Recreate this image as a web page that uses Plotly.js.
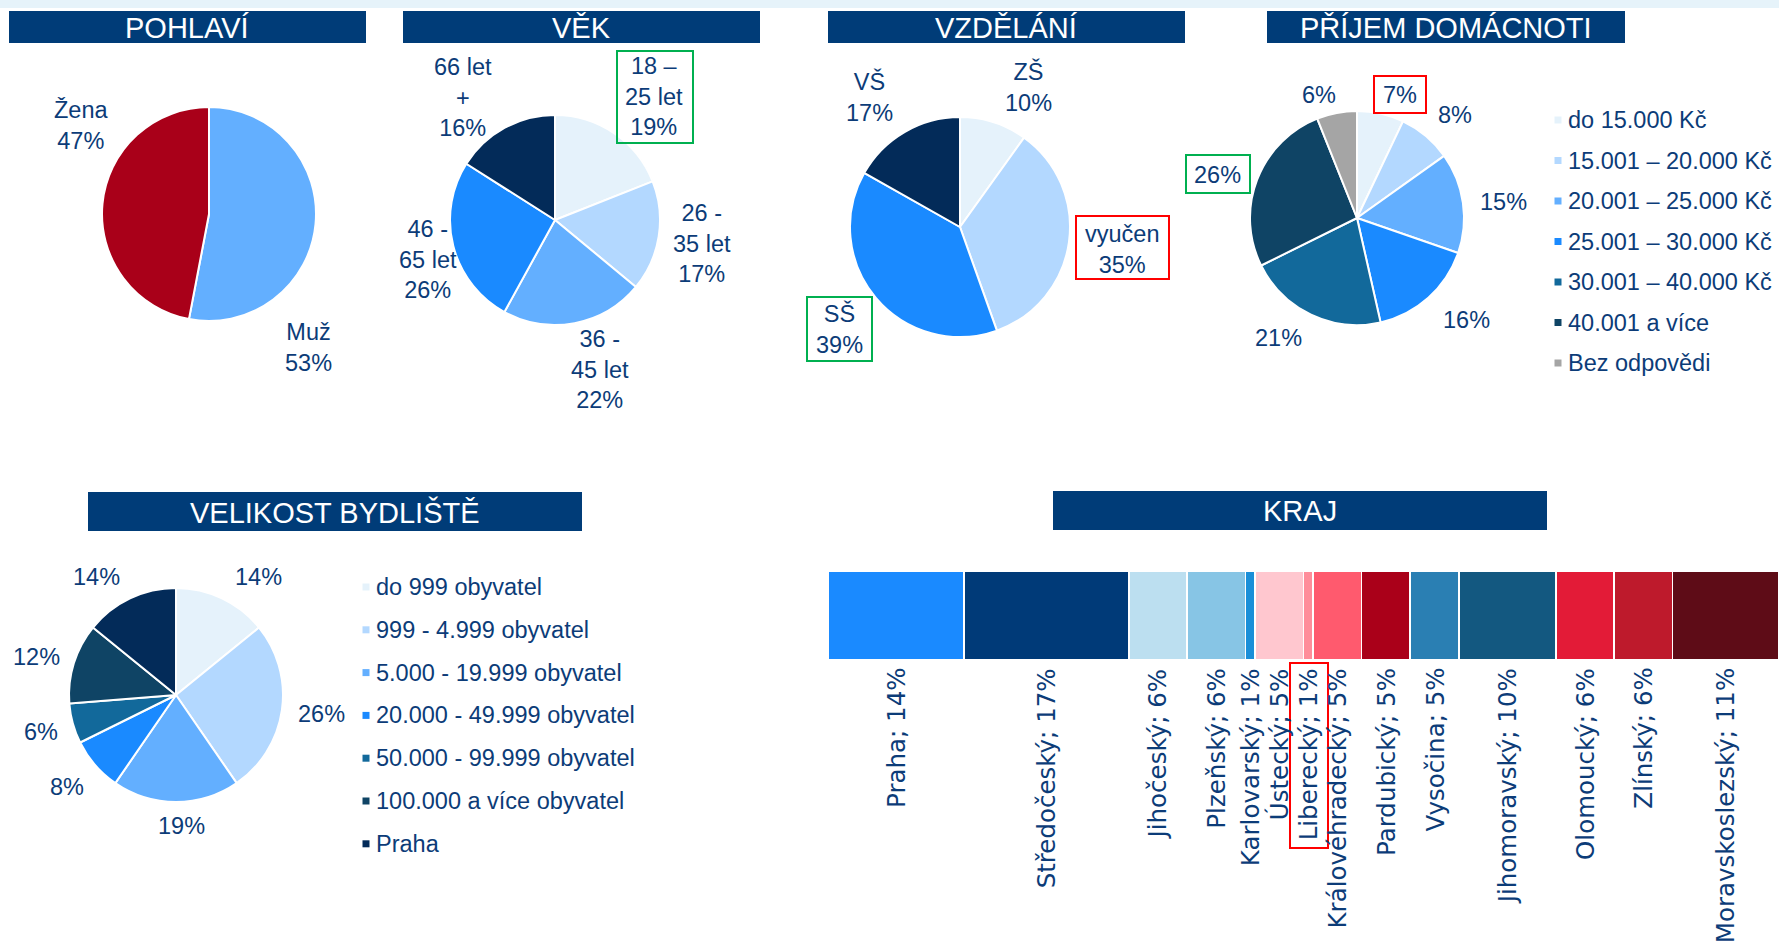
<!DOCTYPE html>
<html><head><meta charset="utf-8">
<script src="https://cdn.plot.ly/plotly-3.0.1.min.js"></script>
<style>html,body{margin:0;padding:0;background:#fff;overflow:hidden}#chart{width:1779px;height:942px;}</style>
</head><body><div id="chart"></div>
<script>
// ---------- DATA ----------
const pohlaviLabels = ['Muž', 'Žena'];
const pohlaviValues = [53, 47];

const vekLabels = ['18 –<br>25 let', '26 -<br>35 let', '36 -<br>45 let', '46 -<br>65 let', '66 let<br>+'];
const vekValues = [19, 17, 22, 26, 16];

const vzdelaniLabels = ['ZŠ', 'vyučen', 'SŠ', 'VŠ'];
const vzdelaniValues = [10, 35, 39, 17];

const prijemLabels = ['do 15.000 Kč', '15.001 – 20.000 Kč', '20.001 – 25.000 Kč', '25.001 – 30.000 Kč', '30.001 – 40.000 Kč', '40.001 a více', 'Bez odpovědi'];
const prijemValues = [7, 8, 15, 16, 21, 26, 6];

const bydlisteLabels = ['do 999 obyvatel', '999 - 4.999 obyvatel', '5.000 - 19.999 obyvatel', '20.000 - 49.999 obyvatel', '50.000 - 99.999 obyvatel', '100.000 a více obyvatel', 'Praha'];
const bydlisteValues = [14, 26, 19, 8, 6, 12, 14];

const krajLabels = ['Praha', 'Středočeský', 'Jihočeský', 'Plzeňský', 'Karlovarský', 'Ústecký', 'Liberecký', 'Královéhradecký', 'Pardubický', 'Vysočina', 'Jihomoravský', 'Olomoucký', 'Zlínský', 'Moravskoslezský'];
const krajValues = [14, 17, 6, 6, 1, 5, 1, 5, 5, 5, 10, 6, 6, 11];

const sectionTitles = ['POHLAVÍ', 'VĚK', 'VZDĚLÁNÍ', 'PŘÍJEM DOMÁCNOTI', 'VELIKOST BYDLIŠTĚ', 'KRAJ'];

// ---------- STYLE / LAYOUT CONFIG ----------
const W = 1779, H = 942;
const X = px => px / W;
const Y = py => 1 - py / H;
const NAVY_TXT = '#0c3c78';
const HEAD = '#003c78';
const FONT = 'Liberation Sans, Arial, sans-serif';
const FS = 23.5;

const pohlaviColors = ['#63afff', '#a90019'];
const vekColors = ['#e5f2fb', '#b3d8ff', '#63afff', '#1a8aff', '#032b59'];
const vzdelaniColors = ['#e5f2fb', '#b3d8ff', '#1a8aff', '#032b59'];
const prijemColors = ['#e5f2fb', '#b3d8ff', '#63afff', '#1a8aff', '#12699b', '#0f4465', '#a5a5a5'];
const bydlisteColors = ['#e5f2fb', '#b3d8ff', '#63afff', '#1a8aff', '#12699b', '#0f4465', '#032b59'];
const krajColors = ['#1a8aff', '#003a78', '#bcdff0', '#87c5e5', '#1b8fd8', '#ffc7cf', '#ff8d9a', '#ff5a6e', '#aa0019', '#2a7fb3', '#135880', '#e31b37', '#be1a2c', '#5e0c17'];

// pie geometry [cx, cy, r] in px
const pieGeo = {
  pohlavi: [209, 214, 107],
  vek: [555, 220, 105],
  vzdelani: [960, 227, 110],
  prijem: [1357, 218, 107],
  bydliste: [176, 695, 107]
};
// label anchor points (px)
const pohlaviPos = [[308, 347], [81, 126]];
const vekPos = [[654, 97], [702, 243], [600, 369], [428, 259], [463, 98]];
const vzdelaniPos = [[1028, 87], [1122, 249], [839, 329], [869, 97]];
const prijemPos = [[1400, 95], [1455, 115], [1503, 202], [1466, 320], [1278, 338], [1217, 175], [1319, 95]];
const bydlistePos = [[258, 577], [321, 714], [181, 826], [67, 787], [41, 732], [36, 657], [96, 577]];

const headerBoxes = [[9, 11, 366, 43], [403, 11, 760, 43], [828, 11, 1185, 43], [1267, 11, 1625, 43], [88, 492, 582, 531], [1053, 491, 1547, 530]];
const greenBoxes = [[617, 51, 693, 143], [807, 297, 872, 361], [1186, 155, 1250, 193]];
const redBoxes = [[1076, 216, 1169, 279], [1374, 76, 1426, 113], [1290, 663, 1328, 848]];

const prijemLegend = {markerX: 1558, textX: 1566, y0: 120, dy: 40.5};
const bydlisteLegend = {markerX: 366, textX: 374, y0: 587, dy: 42.8};

const krajBar = {x0: 828, x1: 1779, y0: 571, y1: 660, labelTop: 666};

// ---------- BUILD ----------
const traces = [];
const annotations = [];
const shapes = [];

function addPie(labels, values, colors, geo, name) {
  const [cx, cy, r] = geo;
  traces.push({
    type: 'pie', name: name, labels: labels, values: values, sort: false,
    direction: 'clockwise', rotation: 0, textinfo: 'none', hoverinfo: 'label+percent',
    showlegend: false,
    marker: {colors: colors, line: {color: '#ffffff', width: 2}},
    domain: {x: [X(cx - r), X(cx + r)], y: [Y(cy + r), Y(cy - r)]}
  });
}
function addLabels(texts, pos) {
  texts.forEach((t, i) => {
    annotations.push({
      xref: 'paper', yref: 'paper', x: X(pos[i][0]), y: Y(pos[i][1]),
      xanchor: 'center', yanchor: 'middle', showarrow: false, text: t,
      font: {family: FONT, size: FS, color: NAVY_TXT}, align: 'center'
    });
  });
}
function addLegend(labels, colors, cfg) {
  labels.forEach((l, i) => {
    const y = cfg.y0 + i * cfg.dy;
    shapes.push({type: 'rect', xref: 'paper', yref: 'paper', x0: X(cfg.markerX - 3.5), x1: X(cfg.markerX + 3.5), y0: Y(y + 3.5), y1: Y(y - 3.5), fillcolor: colors[i], line: {width: 0}});
    annotations.push({xref: 'paper', yref: 'paper', x: X(cfg.textX), y: Y(y), xanchor: 'left', yanchor: 'middle', showarrow: false, text: l, font: {family: FONT, size: FS, color: NAVY_TXT}});
  });
}

addPie(pohlaviLabels, pohlaviValues, pohlaviColors, pieGeo.pohlavi, 'POHLAVÍ');
addLabels(pohlaviLabels.map((l, i) => l + '<br>' + pohlaviValues[i] + '%'), pohlaviPos);

addPie(vekLabels, vekValues, vekColors, pieGeo.vek, 'VĚK');
addLabels(vekLabels.map((l, i) => l + '<br>' + vekValues[i] + '%'), vekPos);

addPie(vzdelaniLabels, vzdelaniValues, vzdelaniColors, pieGeo.vzdelani, 'VZDĚLÁNÍ');
addLabels(vzdelaniLabels.map((l, i) => l + '<br>' + vzdelaniValues[i] + '%'), vzdelaniPos);

addPie(prijemLabels, prijemValues, prijemColors, pieGeo.prijem, 'PŘÍJEM DOMÁCNOTI');
addLabels(prijemValues.map(v => v + '%'), prijemPos);
addLegend(prijemLabels, prijemColors, prijemLegend);

addPie(bydlisteLabels, bydlisteValues, bydlisteColors, pieGeo.bydliste, 'VELIKOST BYDLIŠTĚ');
addLabels(bydlisteValues.map(v => v + '%'), bydlistePos);
addLegend(bydlisteLabels, bydlisteColors, bydlisteLegend);

// Kraj stacked bar
const krajTotal = krajValues.reduce((a, b) => a + b, 0);
let cum = 0;
krajLabels.forEach((l, i) => {
  traces.push({
    type: 'bar', orientation: 'h', name: l, x: [krajValues[i]], y: [0],
    marker: {color: krajColors[i], line: {color: '#ffffff', width: 1.5}},
    showlegend: false, hoverinfo: 'name+x'
  });
  annotations.push({
    xref: 'x', yref: 'paper', x: cum + krajValues[i] / 2, y: Y(krajBar.labelTop),
    xanchor: 'center', yanchor: 'top', textangle: -90, showarrow: false,
    text: l + '; ' + krajValues[i] + '%',
    font: {family: 'DejaVu Sans, sans-serif', size: 24.5, color: NAVY_TXT}
  });
  cum += krajValues[i];
});

// headers
headerBoxes.forEach((b, i) => {
  shapes.push({type: 'rect', xref: 'paper', yref: 'paper', x0: X(b[0]), x1: X(b[2]), y0: Y(b[3]), y1: Y(b[1]), fillcolor: HEAD, line: {width: 0}, layer: 'below'});
  annotations.push({xref: 'paper', yref: 'paper', x: X((b[0] + b[2]) / 2), y: Y((b[1] + b[3]) / 2 + 0.5), xanchor: 'center', yanchor: 'middle', showarrow: false, text: sectionTitles[i], font: {family: FONT, size: 29, color: '#ffffff'}});
});
// top strip
shapes.push({type: 'rect', xref: 'paper', yref: 'paper', x0: 0, x1: 1, y0: Y(8), y1: 1, fillcolor: '#e6f3fa', line: {width: 0}, layer: 'below'});
// highlight boxes
greenBoxes.forEach(b => shapes.push({type: 'rect', xref: 'paper', yref: 'paper', x0: X(b[0]), x1: X(b[2]), y0: Y(b[3]), y1: Y(b[1]), line: {color: '#00b050', width: 2}, fillcolor: 'rgba(0,0,0,0)'}));
redBoxes.forEach(b => shapes.push({type: 'rect', xref: 'paper', yref: 'paper', x0: X(b[0]), x1: X(b[2]), y0: Y(b[3]), y1: Y(b[1]), line: {color: '#ff0000', width: 2}, fillcolor: 'rgba(0,0,0,0)'}));

const layout = {
  width: W, height: H, margin: {l: 0, r: 0, t: 0, b: 0, pad: 0},
  paper_bgcolor: '#ffffff', plot_bgcolor: 'rgba(0,0,0,0)',
  showlegend: false, barmode: 'stack', bargap: 0,
  xaxis: {domain: [X(krajBar.x0), X(krajBar.x1)], range: [0, krajTotal], visible: false, fixedrange: true},
  yaxis: {domain: [Y(krajBar.y1), Y(krajBar.y0)], range: [-0.5, 0.5], visible: false, fixedrange: true},
  annotations: annotations, shapes: shapes
};

Plotly.newPlot('chart', traces, layout, {displayModeBar: false, staticPlot: true});
</script></body></html>
